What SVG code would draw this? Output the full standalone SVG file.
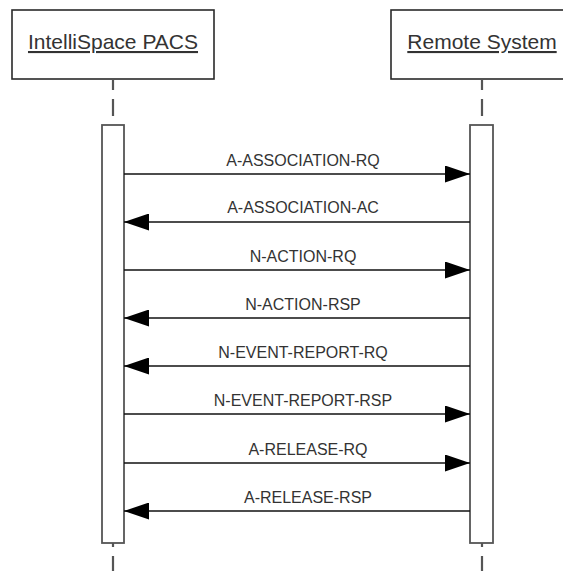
<svg xmlns="http://www.w3.org/2000/svg" width="563" height="571" viewBox="0 0 563 571">
<defs>
<style>
.obj{fill:#fff;stroke:#2a2a2a;stroke-width:1.6}
.title{font-family:"Liberation Sans",Arial,sans-serif;font-size:21px;fill:#333;text-anchor:middle;text-decoration:underline}
.life{stroke:#555;stroke-width:2.2;fill:none;stroke-dasharray:17 9}
.act{fill:#fff;stroke:#555;stroke-width:1.8}
.msg{stroke:#111;stroke-width:1.6;fill:none}
.lbl{font-family:"Liberation Sans",Arial,sans-serif;font-size:16px;fill:#333;text-anchor:middle}
</style>
<marker id="ah" viewBox="0 0 25 17" refX="25" refY="8.5" markerWidth="25" markerHeight="17" markerUnits="userSpaceOnUse" orient="auto">
<path d="M0,0 L25,8.5 L0,17 Z" fill="#000"/>
</marker>
</defs>
<g id="pacs">
<rect class="obj" x="12" y="10" width="202" height="69"/>
<text class="title" x="113" y="49">IntelliSpace PACS</text>
<line class="life" x1="113" y1="79" x2="113" y2="125" stroke-dashoffset="6"/>
<line class="life" x1="113" y1="543" x2="113" y2="571" stroke-dashoffset="13"/>
<rect class="act" x="102" y="125" width="22" height="418"/>
</g>
<g id="remote">
<rect class="obj" x="391" y="10" width="182" height="69"/>
<text class="title" x="482" y="49">Remote System</text>
<line class="life" x1="482" y1="79" x2="482" y2="125" stroke-dashoffset="6"/>
<line class="life" x1="482" y1="543" x2="482" y2="571" stroke-dashoffset="13"/>
<rect class="act" x="470" y="125" width="23" height="418"/>
</g>
<g id="connectors">
<line class="msg" x1="124" y1="174" x2="470" y2="174" marker-end="url(#ah)"/>
<text class="lbl" x="303" y="166">A-ASSOCIATION-RQ</text>
<line class="msg" x1="470" y1="222" x2="124" y2="222" marker-end="url(#ah)"/>
<text class="lbl" x="303" y="213">A-ASSOCIATION-AC</text>
<line class="msg" x1="124" y1="270" x2="470" y2="270" marker-end="url(#ah)"/>
<text class="lbl" x="303" y="262">N-ACTION-RQ</text>
<line class="msg" x1="470" y1="318" x2="124" y2="318" marker-end="url(#ah)"/>
<text class="lbl" x="303" y="310">N-ACTION-RSP</text>
<line class="msg" x1="470" y1="366" x2="124" y2="366" marker-end="url(#ah)"/>
<text class="lbl" x="303" y="358">N-EVENT-REPORT-RQ</text>
<line class="msg" x1="124" y1="414" x2="470" y2="414" marker-end="url(#ah)"/>
<text class="lbl" x="303" y="406">N-EVENT-REPORT-RSP</text>
<line class="msg" x1="124" y1="463" x2="470" y2="463" marker-end="url(#ah)"/>
<text class="lbl" x="308" y="455">A-RELEASE-RQ</text>
<line class="msg" x1="470" y1="511" x2="124" y2="511" marker-end="url(#ah)"/>
<text class="lbl" x="308" y="503">A-RELEASE-RSP</text>
</g>
</svg>
